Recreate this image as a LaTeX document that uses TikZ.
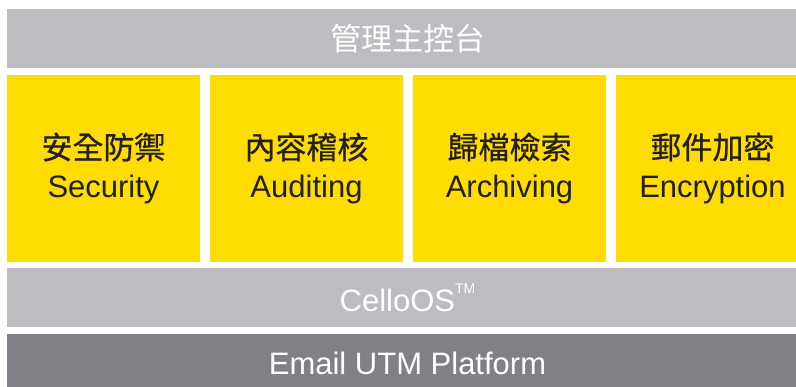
\documentclass[tikz,border=0pt]{standalone}
\usepackage{fontspec}
\setmainfont{Liberation Sans}
\newfontfamily\cjk{Noto Sans CJK TC}
\newfontfamily\cjkmid[FakeBold=0.7]{Noto Sans CJK TC}
\usetikzlibrary{positioning}
\definecolor{CelloGrey}{RGB}{188, 189, 192}
\definecolor{CelloDark}{RGB}{128, 129, 134}
\definecolor{CelloYellow}{RGB}{255, 221, 0}
\definecolor{CelloInk}{RGB}{35, 31, 32}
\newcommand{\trademark}{\raisebox{18pt}{\fontsize{14}{14}\selectfont TM}}

\begin{document}
\begin{tikzpicture}[
        x=1pt, y=1pt,
        layerbar/.style={rectangle, fill=CelloGrey, text=white, minimum width=801pt, minimum height=59pt, inner sep=0pt, outer sep=0pt, font=\fontsize{31}{36}\selectfont},
        modbox/.style={rectangle, fill=CelloYellow, text=CelloInk, minimum width=193pt, minimum height=187pt, inner sep=0pt, outer sep=0pt, align=center, font=\fontsize{31}{39}\selectfont}
    ]
        \useasboundingbox (0,0) rectangle (796,-387);
        \clip (0,0) rectangle (796,-387);

        \node[layerbar, anchor=north west] (console) at (7,-9) {\cjk 管理主控台};

        \node[modbox, below right=7pt and 0pt of console.south west] (security) {{\cjkmid 安全防禦}\\Security};
        \node[modbox, right=10pt of security] (auditing) {{\cjkmid 內容稽核}\\Auditing};
        \node[modbox, right=10pt of auditing] (archiving) {{\cjkmid 歸檔檢索}\\Archiving};
        \node[modbox, right=10pt of archiving] (encryption) {{\cjkmid 郵件加密}\\Encryption};

        \node[layerbar, below right=6pt and 0pt of security.south west] (cello) {CelloOS\trademark};
        \node[layerbar, fill=CelloDark, below right=7pt and 0pt of cello.south west] (platform) {Email UTM Platform};

    \end{tikzpicture}
\end{document}
